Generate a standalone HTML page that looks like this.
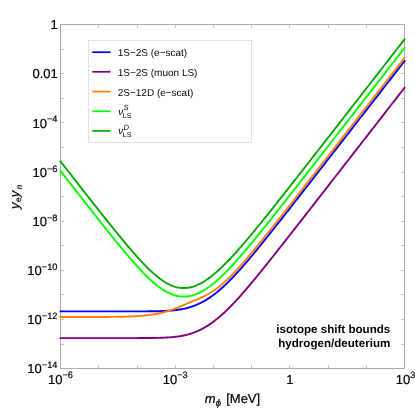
<!DOCTYPE html>
<html><head><meta charset="utf-8"><title>plot</title>
<style>
html,body{margin:0;padding:0;background:#fff;}
body{width:415px;height:415px;overflow:hidden;}
svg{display:block;will-change:transform;text-rendering:geometricPrecision;font-family:"Liberation Sans",sans-serif;}
</style></head><body>
<svg width="415" height="415" viewBox="0 0 415 415">
<rect width="415" height="415" fill="#fff"/>

<g stroke="#c6c6c6" stroke-width="1" shape-rendering="crispEdges">
<line x1="60.5" y1="368.0" x2="60.5" y2="365.0"/><line x1="60.5" y1="25.0" x2="60.5" y2="28.0"/>
<line x1="98.5" y1="368.0" x2="98.5" y2="365.0"/><line x1="98.5" y1="25.0" x2="98.5" y2="28.0"/>
<line x1="137.5" y1="368.0" x2="137.5" y2="365.0"/><line x1="137.5" y1="25.0" x2="137.5" y2="28.0"/>
<line x1="175.5" y1="368.0" x2="175.5" y2="365.0"/><line x1="175.5" y1="25.0" x2="175.5" y2="28.0"/>
<line x1="213.5" y1="368.0" x2="213.5" y2="365.0"/><line x1="213.5" y1="25.0" x2="213.5" y2="28.0"/>
<line x1="251.5" y1="368.0" x2="251.5" y2="365.0"/><line x1="251.5" y1="25.0" x2="251.5" y2="28.0"/>
<line x1="289.5" y1="368.0" x2="289.5" y2="365.0"/><line x1="289.5" y1="25.0" x2="289.5" y2="28.0"/>
<line x1="328.5" y1="368.0" x2="328.5" y2="365.0"/><line x1="328.5" y1="25.0" x2="328.5" y2="28.0"/>
<line x1="366.5" y1="368.0" x2="366.5" y2="365.0"/><line x1="366.5" y1="25.0" x2="366.5" y2="28.0"/>
<line x1="404.5" y1="368.0" x2="404.5" y2="365.0"/><line x1="404.5" y1="25.0" x2="404.5" y2="28.0"/>
<line x1="61.0" y1="24.5" x2="64.0" y2="24.5"/><line x1="404.0" y1="24.5" x2="401.0" y2="24.5"/>
<line x1="61.0" y1="49.5" x2="64.0" y2="49.5"/><line x1="404.0" y1="49.5" x2="401.0" y2="49.5"/>
<line x1="61.0" y1="73.5" x2="64.0" y2="73.5"/><line x1="404.0" y1="73.5" x2="401.0" y2="73.5"/>
<line x1="61.0" y1="98.5" x2="64.0" y2="98.5"/><line x1="404.0" y1="98.5" x2="401.0" y2="98.5"/>
<line x1="61.0" y1="122.5" x2="64.0" y2="122.5"/><line x1="404.0" y1="122.5" x2="401.0" y2="122.5"/>
<line x1="61.0" y1="147.5" x2="64.0" y2="147.5"/><line x1="404.0" y1="147.5" x2="401.0" y2="147.5"/>
<line x1="61.0" y1="172.5" x2="64.0" y2="172.5"/><line x1="404.0" y1="172.5" x2="401.0" y2="172.5"/>
<line x1="61.0" y1="196.5" x2="64.0" y2="196.5"/><line x1="404.0" y1="196.5" x2="401.0" y2="196.5"/>
<line x1="61.0" y1="221.5" x2="64.0" y2="221.5"/><line x1="404.0" y1="221.5" x2="401.0" y2="221.5"/>
<line x1="61.0" y1="245.5" x2="64.0" y2="245.5"/><line x1="404.0" y1="245.5" x2="401.0" y2="245.5"/>
<line x1="61.0" y1="270.5" x2="64.0" y2="270.5"/><line x1="404.0" y1="270.5" x2="401.0" y2="270.5"/>
<line x1="61.0" y1="294.5" x2="64.0" y2="294.5"/><line x1="404.0" y1="294.5" x2="401.0" y2="294.5"/>
<line x1="61.0" y1="319.5" x2="64.0" y2="319.5"/><line x1="404.0" y1="319.5" x2="401.0" y2="319.5"/>
<line x1="61.0" y1="344.5" x2="64.0" y2="344.5"/><line x1="404.0" y1="344.5" x2="401.0" y2="344.5"/>
<line x1="61.0" y1="368.5" x2="64.0" y2="368.5"/><line x1="404.0" y1="368.5" x2="401.0" y2="368.5"/>
</g>
<rect x="60.5" y="24.5" width="344.0" height="344.0" fill="none" stroke="#adadad" stroke-width="1" shape-rendering="crispEdges"/>
<g fill="none" stroke-width="1.9" stroke-linejoin="round" stroke-linecap="square">
<path d="M60.50,311.40 L61.65,311.40 L62.80,311.40 L63.95,311.40 L65.10,311.40 L66.25,311.40 L67.40,311.40 L68.55,311.40 L69.70,311.40 L70.85,311.40 L72.01,311.40 L73.16,311.40 L74.31,311.40 L75.46,311.40 L76.61,311.40 L77.76,311.40 L78.91,311.40 L80.06,311.40 L81.21,311.40 L82.36,311.40 L83.51,311.40 L84.66,311.40 L85.81,311.40 L86.96,311.40 L88.11,311.40 L89.26,311.40 L90.41,311.40 L91.56,311.40 L92.71,311.40 L93.86,311.40 L95.02,311.40 L96.17,311.40 L97.32,311.40 L98.47,311.40 L99.62,311.40 L100.77,311.40 L101.92,311.40 L103.07,311.40 L104.22,311.40 L105.37,311.40 L106.52,311.40 L107.67,311.40 L108.82,311.40 L109.97,311.40 L111.12,311.40 L112.27,311.40 L113.42,311.40 L114.57,311.40 L115.72,311.40 L116.87,311.40 L118.03,311.40 L119.18,311.40 L120.33,311.40 L121.48,311.40 L122.63,311.40 L123.78,311.40 L124.93,311.39 L126.08,311.39 L127.23,311.39 L128.38,311.39 L129.53,311.39 L130.68,311.39 L131.83,311.39 L132.98,311.39 L134.13,311.38 L135.28,311.38 L136.43,311.38 L137.58,311.38 L138.73,311.37 L139.88,311.37 L141.04,311.37 L142.19,311.36 L143.34,311.36 L144.49,311.35 L145.64,311.34 L146.79,311.33 L147.94,311.32 L149.09,311.31 L150.24,311.30 L151.39,311.29 L152.54,311.27 L153.69,311.26 L154.84,311.24 L155.99,311.22 L157.14,311.19 L158.29,311.17 L159.44,311.14 L160.59,311.10 L161.74,311.06 L162.89,311.02 L164.05,310.97 L165.20,310.92 L166.35,310.86 L167.50,310.80 L168.65,310.72 L169.80,310.64 L170.95,310.56 L172.10,310.46 L173.25,310.35 L174.40,310.23 L175.55,310.10 L176.70,309.96 L177.85,309.81 L179.00,309.64 L180.15,309.46 L181.30,309.26 L182.45,309.05 L183.60,308.82 L184.75,308.57 L185.90,308.30 L187.06,308.01 L188.21,307.71 L189.36,307.38 L190.51,307.03 L191.66,306.66 L192.81,306.27 L193.96,305.85 L195.11,305.41 L196.26,304.94 L197.41,304.46 L198.56,303.94 L199.71,303.40 L200.86,302.84 L202.01,302.25 L203.16,301.63 L204.31,300.99 L205.46,300.32 L206.61,299.63 L207.76,298.91 L208.91,298.16 L210.07,297.39 L211.22,296.59 L212.37,295.77 L213.52,294.92 L214.67,294.05 L215.82,293.15 L216.97,292.23 L218.12,291.29 L219.27,290.32 L220.42,289.33 L221.57,288.32 L222.72,287.29 L223.87,286.23 L225.02,285.16 L226.17,284.06 L227.32,282.95 L228.47,281.82 L229.62,280.67 L230.77,279.50 L231.92,278.32 L233.08,277.12 L234.23,275.90 L235.38,274.67 L236.53,273.43 L237.68,272.17 L238.83,270.90 L239.98,269.62 L241.13,268.33 L242.28,267.02 L243.43,265.71 L244.58,264.39 L245.73,263.05 L246.88,261.71 L248.03,260.36 L249.18,259.00 L250.33,257.64 L251.48,256.26 L252.63,254.88 L253.78,253.50 L254.93,252.11 L256.09,250.71 L257.24,249.31 L258.39,247.90 L259.54,246.49 L260.69,245.07 L261.84,243.65 L262.99,242.23 L264.14,240.80 L265.29,239.37 L266.44,237.94 L267.59,236.50 L268.74,235.06 L269.89,233.62 L271.04,232.17 L272.19,230.72 L273.34,229.28 L274.49,227.82 L275.64,226.37 L276.79,224.92 L277.94,223.46 L279.10,222.00 L280.25,220.54 L281.40,219.08 L282.55,217.62 L283.70,216.16 L284.85,214.70 L286.00,213.23 L287.15,211.76 L288.30,210.30 L289.45,208.83 L290.60,207.36 L291.75,205.89 L292.90,204.42 L294.05,202.95 L295.20,201.48 L296.35,200.01 L297.50,198.54 L298.65,197.06 L299.80,195.59 L300.95,194.12 L302.11,192.64 L303.26,191.17 L304.41,189.70 L305.56,188.22 L306.71,186.75 L307.86,185.27 L309.01,183.80 L310.16,182.32 L311.31,180.84 L312.46,179.37 L313.61,177.89 L314.76,176.41 L315.91,174.94 L317.06,173.46 L318.21,171.98 L319.36,170.51 L320.51,169.03 L321.66,167.55 L322.81,166.07 L323.96,164.60 L325.12,163.12 L326.27,161.64 L327.42,160.16 L328.57,158.68 L329.72,157.21 L330.87,155.73 L332.02,154.25 L333.17,152.77 L334.32,151.29 L335.47,149.81 L336.62,148.33 L337.77,146.86 L338.92,145.38 L340.07,143.90 L341.22,142.42 L342.37,140.94 L343.52,139.46 L344.67,137.98 L345.82,136.51 L346.97,135.03 L348.13,133.55 L349.28,132.07 L350.43,130.59 L351.58,129.11 L352.73,127.63 L353.88,126.15 L355.03,124.67 L356.18,123.19 L357.33,121.72 L358.48,120.24 L359.63,118.76 L360.78,117.28 L361.93,115.80 L363.08,114.32 L364.23,112.84 L365.38,111.36 L366.53,109.88 L367.68,108.40 L368.83,106.92 L369.98,105.45 L371.14,103.97 L372.29,102.49 L373.44,101.01 L374.59,99.53 L375.74,98.05 L376.89,96.57 L378.04,95.09 L379.19,93.61 L380.34,92.13 L381.49,90.65 L382.64,89.17 L383.79,87.70 L384.94,86.22 L386.09,84.74 L387.24,83.26 L388.39,81.78 L389.54,80.30 L390.69,78.82 L391.84,77.34 L392.99,75.86 L394.15,74.38 L395.30,72.90 L396.45,71.42 L397.60,69.95 L398.75,68.47 L399.90,66.99 L401.05,65.51 L402.20,64.03 L403.35,62.55 L404.50,61.07" stroke="#0000ff"/>
<path d="M60.50,338.10 L61.65,338.10 L62.80,338.10 L63.95,338.10 L65.10,338.10 L66.25,338.10 L67.40,338.10 L68.55,338.10 L69.70,338.10 L70.85,338.10 L72.01,338.10 L73.16,338.10 L74.31,338.10 L75.46,338.10 L76.61,338.10 L77.76,338.10 L78.91,338.10 L80.06,338.10 L81.21,338.10 L82.36,338.10 L83.51,338.10 L84.66,338.10 L85.81,338.10 L86.96,338.10 L88.11,338.10 L89.26,338.10 L90.41,338.10 L91.56,338.10 L92.71,338.10 L93.86,338.10 L95.02,338.10 L96.17,338.10 L97.32,338.10 L98.47,338.10 L99.62,338.10 L100.77,338.10 L101.92,338.10 L103.07,338.10 L104.22,338.10 L105.37,338.10 L106.52,338.10 L107.67,338.10 L108.82,338.10 L109.97,338.10 L111.12,338.10 L112.27,338.10 L113.42,338.10 L114.57,338.10 L115.72,338.10 L116.87,338.10 L118.03,338.10 L119.18,338.10 L120.33,338.10 L121.48,338.10 L122.63,338.10 L123.78,338.10 L124.93,338.09 L126.08,338.09 L127.23,338.09 L128.38,338.09 L129.53,338.09 L130.68,338.09 L131.83,338.09 L132.98,338.09 L134.13,338.08 L135.28,338.08 L136.43,338.08 L137.58,338.08 L138.73,338.07 L139.88,338.07 L141.04,338.07 L142.19,338.06 L143.34,338.06 L144.49,338.05 L145.64,338.04 L146.79,338.03 L147.94,338.02 L149.09,338.01 L150.24,338.00 L151.39,337.99 L152.54,337.97 L153.69,337.96 L154.84,337.94 L155.99,337.92 L157.14,337.89 L158.29,337.87 L159.44,337.84 L160.59,337.80 L161.74,337.76 L162.89,337.72 L164.05,337.67 L165.20,337.62 L166.35,337.56 L167.50,337.50 L168.65,337.42 L169.80,337.34 L170.95,337.26 L172.10,337.16 L173.25,337.05 L174.40,336.93 L175.55,336.80 L176.70,336.66 L177.85,336.51 L179.00,336.34 L180.15,336.16 L181.30,335.96 L182.45,335.75 L183.60,335.52 L184.75,335.27 L185.90,335.00 L187.06,334.71 L188.21,334.41 L189.36,334.08 L190.51,333.73 L191.66,333.36 L192.81,332.97 L193.96,332.55 L195.11,332.11 L196.26,331.64 L197.41,331.16 L198.56,330.64 L199.71,330.10 L200.86,329.54 L202.01,328.95 L203.16,328.33 L204.31,327.69 L205.46,327.02 L206.61,326.33 L207.76,325.61 L208.91,324.86 L210.07,324.09 L211.22,323.29 L212.37,322.47 L213.52,321.62 L214.67,320.75 L215.82,319.85 L216.97,318.93 L218.12,317.99 L219.27,317.02 L220.42,316.03 L221.57,315.02 L222.72,313.99 L223.87,312.93 L225.02,311.86 L226.17,310.76 L227.32,309.65 L228.47,308.52 L229.62,307.37 L230.77,306.20 L231.92,305.02 L233.08,303.82 L234.23,302.60 L235.38,301.37 L236.53,300.13 L237.68,298.87 L238.83,297.60 L239.98,296.32 L241.13,295.03 L242.28,293.72 L243.43,292.41 L244.58,291.09 L245.73,289.75 L246.88,288.41 L248.03,287.06 L249.18,285.70 L250.33,284.34 L251.48,282.96 L252.63,281.58 L253.78,280.20 L254.93,278.81 L256.09,277.41 L257.24,276.01 L258.39,274.60 L259.54,273.19 L260.69,271.77 L261.84,270.35 L262.99,268.93 L264.14,267.50 L265.29,266.07 L266.44,264.64 L267.59,263.20 L268.74,261.76 L269.89,260.32 L271.04,258.87 L272.19,257.42 L273.34,255.98 L274.49,254.52 L275.64,253.07 L276.79,251.62 L277.94,250.16 L279.10,248.70 L280.25,247.24 L281.40,245.78 L282.55,244.32 L283.70,242.86 L284.85,241.40 L286.00,239.93 L287.15,238.46 L288.30,237.00 L289.45,235.53 L290.60,234.06 L291.75,232.59 L292.90,231.12 L294.05,229.65 L295.20,228.18 L296.35,226.71 L297.50,225.24 L298.65,223.76 L299.80,222.29 L300.95,220.82 L302.11,219.34 L303.26,217.87 L304.41,216.40 L305.56,214.92 L306.71,213.45 L307.86,211.97 L309.01,210.50 L310.16,209.02 L311.31,207.54 L312.46,206.07 L313.61,204.59 L314.76,203.11 L315.91,201.64 L317.06,200.16 L318.21,198.68 L319.36,197.21 L320.51,195.73 L321.66,194.25 L322.81,192.77 L323.96,191.30 L325.12,189.82 L326.27,188.34 L327.42,186.86 L328.57,185.38 L329.72,183.91 L330.87,182.43 L332.02,180.95 L333.17,179.47 L334.32,177.99 L335.47,176.51 L336.62,175.03 L337.77,173.56 L338.92,172.08 L340.07,170.60 L341.22,169.12 L342.37,167.64 L343.52,166.16 L344.67,164.68 L345.82,163.21 L346.97,161.73 L348.13,160.25 L349.28,158.77 L350.43,157.29 L351.58,155.81 L352.73,154.33 L353.88,152.85 L355.03,151.37 L356.18,149.89 L357.33,148.42 L358.48,146.94 L359.63,145.46 L360.78,143.98 L361.93,142.50 L363.08,141.02 L364.23,139.54 L365.38,138.06 L366.53,136.58 L367.68,135.10 L368.83,133.62 L369.98,132.15 L371.14,130.67 L372.29,129.19 L373.44,127.71 L374.59,126.23 L375.74,124.75 L376.89,123.27 L378.04,121.79 L379.19,120.31 L380.34,118.83 L381.49,117.35 L382.64,115.87 L383.79,114.40 L384.94,112.92 L386.09,111.44 L387.24,109.96 L388.39,108.48 L389.54,107.00 L390.69,105.52 L391.84,104.04 L392.99,102.56 L394.15,101.08 L395.30,99.60 L396.45,98.12 L397.60,96.65 L398.75,95.17 L399.90,93.69 L401.05,92.21 L402.20,90.73 L403.35,89.25 L404.50,87.77" stroke="#800080"/>
<path d="M60.50,317.00 L61.65,317.00 L62.80,317.00 L63.95,317.00 L65.10,317.00 L66.25,317.00 L67.40,317.00 L68.55,317.00 L69.70,317.00 L70.85,317.00 L72.01,317.00 L73.16,317.00 L74.31,317.00 L75.46,317.00 L76.61,317.00 L77.76,317.00 L78.91,317.00 L80.06,317.00 L81.21,317.00 L82.36,317.00 L83.51,317.00 L84.66,316.99 L85.81,316.99 L86.96,316.99 L88.11,316.99 L89.26,316.99 L90.41,316.99 L91.56,316.99 L92.71,316.99 L93.86,316.98 L95.02,316.98 L96.17,316.98 L97.32,316.98 L98.47,316.97 L99.62,316.97 L100.77,316.97 L101.92,316.96 L103.07,316.96 L104.22,316.95 L105.37,316.95 L106.52,316.94 L107.67,316.93 L108.82,316.92 L109.97,316.91 L111.12,316.90 L112.27,316.89 L113.42,316.88 L114.57,316.86 L115.72,316.85 L116.87,316.83 L118.03,316.81 L119.18,316.79 L120.33,316.77 L121.48,316.74 L122.63,316.72 L123.78,316.69 L124.93,316.65 L126.08,316.62 L127.23,316.58 L128.38,316.54 L129.53,316.50 L130.68,316.45 L131.83,316.40 L132.98,316.34 L134.13,316.28 L135.28,316.22 L136.43,316.15 L137.58,316.08 L138.73,316.00 L139.88,315.92 L141.04,315.83 L142.19,315.73 L143.34,315.63 L144.49,315.52 L145.64,315.40 L146.79,315.28 L147.94,315.15 L149.09,315.01 L150.24,314.86 L151.39,314.70 L152.54,314.53 L153.69,314.35 L154.84,314.16 L155.99,313.95 L157.14,313.74 L158.29,313.51 L159.44,313.27 L160.59,313.02 L161.74,312.75 L162.89,312.47 L164.05,312.18 L165.20,311.87 L166.35,311.54 L167.50,311.20 L168.65,310.85 L169.80,310.48 L170.95,310.10 L172.10,309.70 L173.25,309.29 L174.40,308.86 L175.55,308.43 L176.70,307.98 L177.85,307.52 L179.00,307.06 L180.15,306.58 L181.30,306.10 L182.45,305.61 L183.60,305.12 L184.75,304.63 L185.90,304.14 L187.06,303.65 L188.21,303.16 L189.36,302.67 L190.51,302.18 L191.66,301.70 L192.81,301.21 L193.96,300.73 L195.11,300.24 L196.26,299.76 L197.41,299.26 L198.56,298.77 L199.71,298.26 L200.86,297.74 L202.01,297.21 L203.16,296.66 L204.31,296.10 L205.46,295.51 L206.61,294.91 L207.76,294.28 L208.91,293.63 L210.07,292.95 L211.22,292.24 L212.37,291.51 L213.52,290.75 L214.67,289.96 L215.82,289.14 L216.97,288.30 L218.12,287.42 L219.27,286.52 L220.42,285.59 L221.57,284.64 L222.72,283.66 L223.87,282.65 L225.02,281.62 L226.17,280.57 L227.32,279.49 L228.47,278.39 L229.62,277.27 L230.77,276.13 L231.92,274.97 L233.08,273.80 L234.23,272.60 L235.38,271.39 L236.53,270.16 L237.68,268.92 L238.83,267.66 L239.98,266.39 L241.13,265.11 L242.28,263.82 L243.43,262.51 L244.58,261.19 L245.73,259.87 L246.88,258.53 L248.03,257.18 L249.18,255.83 L250.33,254.47 L251.48,253.10 L252.63,251.72 L253.78,250.34 L254.93,248.95 L256.09,247.55 L257.24,246.15 L258.39,244.75 L259.54,243.34 L260.69,241.92 L261.84,240.50 L262.99,239.08 L264.14,237.65 L265.29,236.22 L266.44,234.79 L267.59,233.35 L268.74,231.91 L269.89,230.47 L271.04,229.03 L272.19,227.58 L273.34,226.13 L274.49,224.68 L275.64,223.23 L276.79,221.77 L277.94,220.32 L279.10,218.86 L280.25,217.40 L281.40,215.94 L282.55,214.48 L283.70,213.02 L284.85,211.55 L286.00,210.09 L287.15,208.62 L288.30,207.16 L289.45,205.69 L290.60,204.22 L291.75,202.75 L292.90,201.28 L294.05,199.81 L295.20,198.34 L296.35,196.87 L297.50,195.40 L298.65,193.92 L299.80,192.45 L300.95,190.98 L302.11,189.50 L303.26,188.03 L304.41,186.56 L305.56,185.08 L306.71,183.61 L307.86,182.13 L309.01,180.65 L310.16,179.18 L311.31,177.70 L312.46,176.23 L313.61,174.75 L314.76,173.27 L315.91,171.80 L317.06,170.32 L318.21,168.84 L319.36,167.36 L320.51,165.89 L321.66,164.41 L322.81,162.93 L323.96,161.45 L325.12,159.98 L326.27,158.50 L327.42,157.02 L328.57,155.54 L329.72,154.06 L330.87,152.59 L332.02,151.11 L333.17,149.63 L334.32,148.15 L335.47,146.67 L336.62,145.19 L337.77,143.72 L338.92,142.24 L340.07,140.76 L341.22,139.28 L342.37,137.80 L343.52,136.32 L344.67,134.84 L345.82,133.36 L346.97,131.89 L348.13,130.41 L349.28,128.93 L350.43,127.45 L351.58,125.97 L352.73,124.49 L353.88,123.01 L355.03,121.53 L356.18,120.05 L357.33,118.57 L358.48,117.10 L359.63,115.62 L360.78,114.14 L361.93,112.66 L363.08,111.18 L364.23,109.70 L365.38,108.22 L366.53,106.74 L367.68,105.26 L368.83,103.78 L369.98,102.30 L371.14,100.83 L372.29,99.35 L373.44,97.87 L374.59,96.39 L375.74,94.91 L376.89,93.43 L378.04,91.95 L379.19,90.47 L380.34,88.99 L381.49,87.51 L382.64,86.03 L383.79,84.55 L384.94,83.08 L386.09,81.60 L387.24,80.12 L388.39,78.64 L389.54,77.16 L390.69,75.68 L391.84,74.20 L392.99,72.72 L394.15,71.24 L395.30,69.76 L396.45,68.28 L397.60,66.80 L398.75,65.33 L399.90,63.85 L401.05,62.37 L402.20,60.89 L403.35,59.41 L404.50,57.93" stroke="#ff8000"/>
<path d="M60.50,170.90 L61.65,172.38 L62.80,173.85 L63.95,175.33 L65.10,176.81 L66.25,178.28 L67.40,179.76 L68.55,181.23 L69.70,182.71 L70.85,184.18 L72.01,185.66 L73.16,187.13 L74.31,188.61 L75.46,190.08 L76.61,191.55 L77.76,193.02 L78.91,194.50 L80.06,195.97 L81.21,197.44 L82.36,198.91 L83.51,200.38 L84.66,201.85 L85.81,203.32 L86.96,204.78 L88.11,206.25 L89.26,207.72 L90.41,209.18 L91.56,210.65 L92.71,212.11 L93.86,213.57 L95.02,215.03 L96.17,216.49 L97.32,217.95 L98.47,219.41 L99.62,220.86 L100.77,222.32 L101.92,223.77 L103.07,225.22 L104.22,226.67 L105.37,228.11 L106.52,229.56 L107.67,231.00 L108.82,232.44 L109.97,233.87 L111.12,235.30 L112.27,236.73 L113.42,238.16 L114.57,239.58 L115.72,241.00 L116.87,242.41 L118.03,243.82 L119.18,245.23 L120.33,246.63 L121.48,248.02 L122.63,249.41 L123.78,250.79 L124.93,252.17 L126.08,253.54 L127.23,254.90 L128.38,256.26 L129.53,257.60 L130.68,258.94 L131.83,260.26 L132.98,261.58 L134.13,262.89 L135.28,264.18 L136.43,265.47 L137.58,266.74 L138.73,267.99 L139.88,269.24 L141.04,270.47 L142.19,271.68 L143.34,272.87 L144.49,274.05 L145.64,275.21 L146.79,276.35 L147.94,277.47 L149.09,278.57 L150.24,279.64 L151.39,280.70 L152.54,281.72 L153.69,282.72 L154.84,283.70 L155.99,284.65 L157.14,285.57 L158.29,286.45 L159.44,287.31 L160.59,288.13 L161.74,288.93 L162.89,289.68 L164.05,290.41 L165.20,291.09 L166.35,291.74 L167.50,292.35 L168.65,292.92 L169.80,293.46 L170.95,293.95 L172.10,294.40 L173.25,294.81 L174.40,295.18 L175.55,295.50 L176.70,295.79 L177.85,296.03 L179.00,296.22 L180.15,296.38 L181.30,296.49 L182.45,296.56 L183.60,296.58 L184.75,296.56 L185.90,296.50 L187.06,296.39 L188.21,296.24 L189.36,296.05 L190.51,295.82 L191.66,295.55 L192.81,295.23 L193.96,294.88 L195.11,294.48 L196.26,294.05 L197.41,293.58 L198.56,293.07 L199.71,292.53 L200.86,291.95 L202.01,291.33 L203.16,290.68 L204.31,289.99 L205.46,289.28 L206.61,288.53 L207.76,287.75 L208.91,286.94 L210.07,286.10 L211.22,285.23 L212.37,284.33 L213.52,283.41 L214.67,282.46 L215.82,281.49 L216.97,280.49 L218.12,279.48 L219.27,278.43 L220.42,277.37 L221.57,276.29 L222.72,275.18 L223.87,274.06 L225.02,272.92 L226.17,271.76 L227.32,270.59 L228.47,269.40 L229.62,268.20 L230.77,266.98 L231.92,265.74 L233.08,264.50 L234.23,263.24 L235.38,261.97 L236.53,260.69 L237.68,259.39 L238.83,258.09 L239.98,256.78 L241.13,255.46 L242.28,254.13 L243.43,252.79 L244.58,251.44 L245.73,250.09 L246.88,248.73 L248.03,247.36 L249.18,245.98 L250.33,244.60 L251.48,243.22 L252.63,241.83 L253.78,240.43 L254.93,239.03 L256.09,237.63 L257.24,236.22 L258.39,234.80 L259.54,233.39 L260.69,231.96 L261.84,230.54 L262.99,229.11 L264.14,227.68 L265.29,226.25 L266.44,224.81 L267.59,223.37 L268.74,221.93 L269.89,220.49 L271.04,219.04 L272.19,217.60 L273.34,216.15 L274.49,214.70 L275.64,213.24 L276.79,211.79 L277.94,210.34 L279.10,208.88 L280.25,207.42 L281.40,205.96 L282.55,204.50 L283.70,203.04 L284.85,201.57 L286.00,200.11 L287.15,198.65 L288.30,197.18 L289.45,195.71 L290.60,194.25 L291.75,192.78 L292.90,191.31 L294.05,189.84 L295.20,188.37 L296.35,186.90 L297.50,185.43 L298.65,183.96 L299.80,182.49 L300.95,181.02 L302.11,179.54 L303.26,178.07 L304.41,176.60 L305.56,175.12 L306.71,173.65 L307.86,172.17 L309.01,170.70 L310.16,169.22 L311.31,167.75 L312.46,166.27 L313.61,164.80 L314.76,163.32 L315.91,161.85 L317.06,160.37 L318.21,158.89 L319.36,157.42 L320.51,155.94 L321.66,154.46 L322.81,152.99 L323.96,151.51 L325.12,150.03 L326.27,148.55 L327.42,147.08 L328.57,145.60 L329.72,144.12 L330.87,142.64 L332.02,141.17 L333.17,139.69 L334.32,138.21 L335.47,136.73 L336.62,135.25 L337.77,133.78 L338.92,132.30 L340.07,130.82 L341.22,129.34 L342.37,127.86 L343.52,126.38 L344.67,124.91 L345.82,123.43 L346.97,121.95 L348.13,120.47 L349.28,118.99 L350.43,117.51 L351.58,116.03 L352.73,114.55 L353.88,113.08 L355.03,111.60 L356.18,110.12 L357.33,108.64 L358.48,107.16 L359.63,105.68 L360.78,104.20 L361.93,102.72 L363.08,101.24 L364.23,99.77 L365.38,98.29 L366.53,96.81 L367.68,95.33 L368.83,93.85 L369.98,92.37 L371.14,90.89 L372.29,89.41 L373.44,87.93 L374.59,86.45 L375.74,84.98 L376.89,83.50 L378.04,82.02 L379.19,80.54 L380.34,79.06 L381.49,77.58 L382.64,76.10 L383.79,74.62 L384.94,73.14 L386.09,71.66 L387.24,70.18 L388.39,68.71 L389.54,67.23 L390.69,65.75 L391.84,64.27 L392.99,62.79 L394.15,61.31 L395.30,59.83 L396.45,58.35 L397.60,56.87 L398.75,55.39 L399.90,53.91 L401.05,52.43 L402.20,50.96 L403.35,49.48 L404.50,48.00" stroke="#00ff00"/>
<path d="M60.50,161.39 L61.65,162.87 L62.80,164.34 L63.95,165.82 L65.10,167.29 L66.25,168.77 L67.40,170.24 L68.55,171.72 L69.70,173.19 L70.85,174.67 L72.01,176.14 L73.16,177.61 L74.31,179.09 L75.46,180.56 L76.61,182.03 L77.76,183.50 L78.91,184.97 L80.06,186.44 L81.21,187.91 L82.36,189.38 L83.51,190.85 L84.66,192.32 L85.81,193.79 L86.96,195.26 L88.11,196.72 L89.26,198.19 L90.41,199.65 L91.56,201.11 L92.71,202.58 L93.86,204.04 L95.02,205.50 L96.17,206.96 L97.32,208.42 L98.47,209.87 L99.62,211.33 L100.77,212.78 L101.92,214.23 L103.07,215.68 L104.22,217.13 L105.37,218.57 L106.52,220.02 L107.67,221.46 L108.82,222.90 L109.97,224.33 L111.12,225.77 L112.27,227.20 L113.42,228.62 L114.57,230.05 L115.72,231.47 L116.87,232.89 L118.03,234.30 L119.18,235.70 L120.33,237.11 L121.48,238.51 L122.63,239.90 L123.78,241.29 L124.93,242.67 L126.08,244.04 L127.23,245.41 L128.38,246.77 L129.53,248.12 L130.68,249.47 L131.83,250.80 L132.98,252.13 L134.13,253.45 L135.28,254.75 L136.43,256.05 L137.58,257.33 L138.73,258.61 L139.88,259.86 L141.04,261.11 L142.19,262.34 L143.34,263.55 L144.49,264.75 L145.64,265.93 L146.79,267.09 L147.94,268.23 L149.09,269.35 L150.24,270.45 L151.39,271.53 L152.54,272.58 L153.69,273.61 L154.84,274.62 L155.99,275.59 L157.14,276.54 L158.29,277.46 L159.44,278.35 L160.59,279.20 L161.74,280.02 L162.89,280.81 L164.05,281.56 L165.20,282.28 L166.35,282.96 L167.50,283.60 L168.65,284.20 L169.80,284.76 L170.95,285.27 L172.10,285.75 L173.25,286.18 L174.40,286.57 L175.55,286.91 L176.70,287.21 L177.85,287.47 L179.00,287.68 L180.15,287.84 L181.30,287.96 L182.45,288.03 L183.60,288.05 L184.75,288.04 L185.90,287.97 L187.06,287.86 L188.21,287.71 L189.36,287.51 L190.51,287.27 L191.66,286.98 L192.81,286.66 L193.96,286.29 L195.11,285.88 L196.26,285.43 L197.41,284.95 L198.56,284.42 L199.71,283.86 L200.86,283.26 L202.01,282.63 L203.16,281.96 L204.31,281.26 L205.46,280.52 L206.61,279.75 L207.76,278.96 L208.91,278.13 L210.07,277.28 L211.22,276.40 L212.37,275.49 L213.52,274.55 L214.67,273.59 L215.82,272.61 L216.97,271.61 L218.12,270.58 L219.27,269.53 L220.42,268.46 L221.57,267.37 L222.72,266.26 L223.87,265.14 L225.02,263.99 L226.17,262.83 L227.32,261.66 L228.47,260.47 L229.62,259.26 L230.77,258.05 L231.92,256.81 L233.08,255.57 L234.23,254.31 L235.38,253.05 L236.53,251.77 L237.68,250.48 L238.83,249.18 L239.98,247.87 L241.13,246.56 L242.28,245.23 L243.43,243.90 L244.58,242.56 L245.73,241.21 L246.88,239.85 L248.03,238.49 L249.18,237.12 L250.33,235.75 L251.48,234.37 L252.63,232.99 L253.78,231.60 L254.93,230.20 L256.09,228.80 L257.24,227.40 L258.39,225.99 L259.54,224.58 L260.69,223.17 L261.84,221.75 L262.99,220.33 L264.14,218.90 L265.29,217.47 L266.44,216.04 L267.59,214.61 L268.74,213.17 L269.89,211.73 L271.04,210.29 L272.19,208.85 L273.34,207.41 L274.49,205.96 L275.64,204.51 L276.79,203.06 L277.94,201.61 L279.10,200.16 L280.25,198.70 L281.40,197.25 L282.55,195.79 L283.70,194.33 L284.85,192.87 L286.00,191.41 L287.15,189.95 L288.30,188.49 L289.45,187.03 L290.60,185.56 L291.75,184.10 L292.90,182.63 L294.05,181.16 L295.20,179.70 L296.35,178.23 L297.50,176.76 L298.65,175.29 L299.80,173.82 L300.95,172.35 L302.11,170.88 L303.26,169.41 L304.41,167.94 L305.56,166.47 L306.71,164.99 L307.86,163.52 L309.01,162.05 L310.16,160.57 L311.31,159.10 L312.46,157.63 L313.61,156.15 L314.76,154.68 L315.91,153.20 L317.06,151.73 L318.21,150.25 L319.36,148.78 L320.51,147.30 L321.66,145.82 L322.81,144.35 L323.96,142.87 L325.12,141.40 L326.27,139.92 L327.42,138.44 L328.57,136.97 L329.72,135.49 L330.87,134.01 L332.02,132.53 L333.17,131.06 L334.32,129.58 L335.47,128.10 L336.62,126.62 L337.77,125.15 L338.92,123.67 L340.07,122.19 L341.22,120.71 L342.37,119.23 L343.52,117.76 L344.67,116.28 L345.82,114.80 L346.97,113.32 L348.13,111.84 L349.28,110.37 L350.43,108.89 L351.58,107.41 L352.73,105.93 L353.88,104.45 L355.03,102.97 L356.18,101.49 L357.33,100.02 L358.48,98.54 L359.63,97.06 L360.78,95.58 L361.93,94.10 L363.08,92.62 L364.23,91.14 L365.38,89.66 L366.53,88.19 L367.68,86.71 L368.83,85.23 L369.98,83.75 L371.14,82.27 L372.29,80.79 L373.44,79.31 L374.59,77.83 L375.74,76.35 L376.89,74.87 L378.04,73.40 L379.19,71.92 L380.34,70.44 L381.49,68.96 L382.64,67.48 L383.79,66.00 L384.94,64.52 L386.09,63.04 L387.24,61.56 L388.39,60.08 L389.54,58.61 L390.69,57.13 L391.84,55.65 L392.99,54.17 L394.15,52.69 L395.30,51.21 L396.45,49.73 L397.60,48.25 L398.75,46.77 L399.90,45.29 L401.05,43.81 L402.20,42.33 L403.35,40.86 L404.50,39.38" stroke="#00aa00"/>
</g>
<rect x="88.5" y="40.5" width="163" height="102" fill="#fff" fill-opacity="0" stroke="#e2e2e2" stroke-width="1" shape-rendering="crispEdges"/>
<g stroke-width="1.7">
<line x1="92.3" y1="52.2" x2="110.6" y2="52.2" stroke="#0000ff"/>
<line x1="92.3" y1="71.8" x2="110.6" y2="71.8" stroke="#800080"/>
<line x1="92.3" y1="91.6" x2="110.6" y2="91.6" stroke="#ff8000"/>
<line x1="92.3" y1="111.3" x2="110.6" y2="111.3" stroke="#00ff00"/>
<line x1="92.3" y1="130.9" x2="110.6" y2="130.9" stroke="#00aa00"/>
</g>
<g font-size="10px" fill="#000">
<text x="117.7" y="56.2">1S−2S (e−scat)</text>
<text x="117.7" y="75.8">1S−2S (muon LS)</text>
<text x="117.7" y="95.6">2S−12D (e−scat)</text>
<text x="118.2" y="114.5"><tspan font-style="italic">ν</tspan></text>
<text x="123.6" y="110.39999999999999" font-size="7.6px" font-style="italic">S</text>
<text x="122.8" y="117.6" font-size="7px">LS</text>
<text x="118.2" y="134.1"><tspan font-style="italic">ν</tspan></text>
<text x="123.6" y="130.0" font-size="7.6px" font-style="italic">D</text>
<text x="122.8" y="137.20000000000002" font-size="7px">LS</text>
</g>
<g font-size="13px" fill="#000" stroke="#000" stroke-width="0.2">
<text x="57.8" y="29.3" text-anchor="end">1</text>
<text x="57.8" y="78.24285714285713" text-anchor="end">0.01</text>
<text x="57.4" y="127.6857142857143" text-anchor="end">10<tspan font-size="9.2px" dy="-5.3">−4</tspan></text>
<text x="57.4" y="176.82857142857145" text-anchor="end">10<tspan font-size="9.2px" dy="-5.3">−6</tspan></text>
<text x="57.4" y="225.9714285714286" text-anchor="end">10<tspan font-size="9.2px" dy="-5.3">−8</tspan></text>
<text x="57.4" y="275.1142857142857" text-anchor="end">10<tspan font-size="9.2px" dy="-5.3">−10</tspan></text>
<text x="57.4" y="324.25714285714287" text-anchor="end">10<tspan font-size="9.2px" dy="-5.3">−12</tspan></text>
<text x="57.4" y="373.4" text-anchor="end">10<tspan font-size="9.2px" dy="-5.3">−14</tspan></text>
<text x="60.5" y="383.7" text-anchor="middle">10<tspan font-size="9.2px" dy="-5.3">−6</tspan></text>
<text x="175.16666666666666" y="383.7" text-anchor="middle">10<tspan font-size="9.2px" dy="-5.3">−3</tspan></text>
<text x="289.8333333333333" y="383.7" text-anchor="middle">1</text>
<text x="405.5" y="383.7" text-anchor="middle">10<tspan font-size="9.2px" dy="-5.3">3</tspan></text>
<text x="204.7" y="403.1"><tspan font-style="italic">m</tspan><tspan font-size="9.6px" font-style="italic" dy="2.4" dx="0.2">ϕ</tspan><tspan dy="-2.4" dx="1.5"> [MeV]</tspan></text>
<text transform="translate(19.2,208.9) rotate(-90)"><tspan font-style="italic">y</tspan><tspan font-size="8.2px" font-style="italic" dy="2.2" dx="0.3">e</tspan><tspan font-style="italic" dy="-2.2" dx="0.3">y</tspan><tspan font-size="8.2px" font-style="italic" dy="2.4" dx="1.6">n</tspan></text>
</g>
<g font-size="11.6px" font-weight="bold" fill="#000" text-anchor="end"><text x="390.3" y="332.7">isotope shift bounds</text><text x="390.3" y="347.1">hydrogen/deuterium</text></g>
</svg></body></html>
